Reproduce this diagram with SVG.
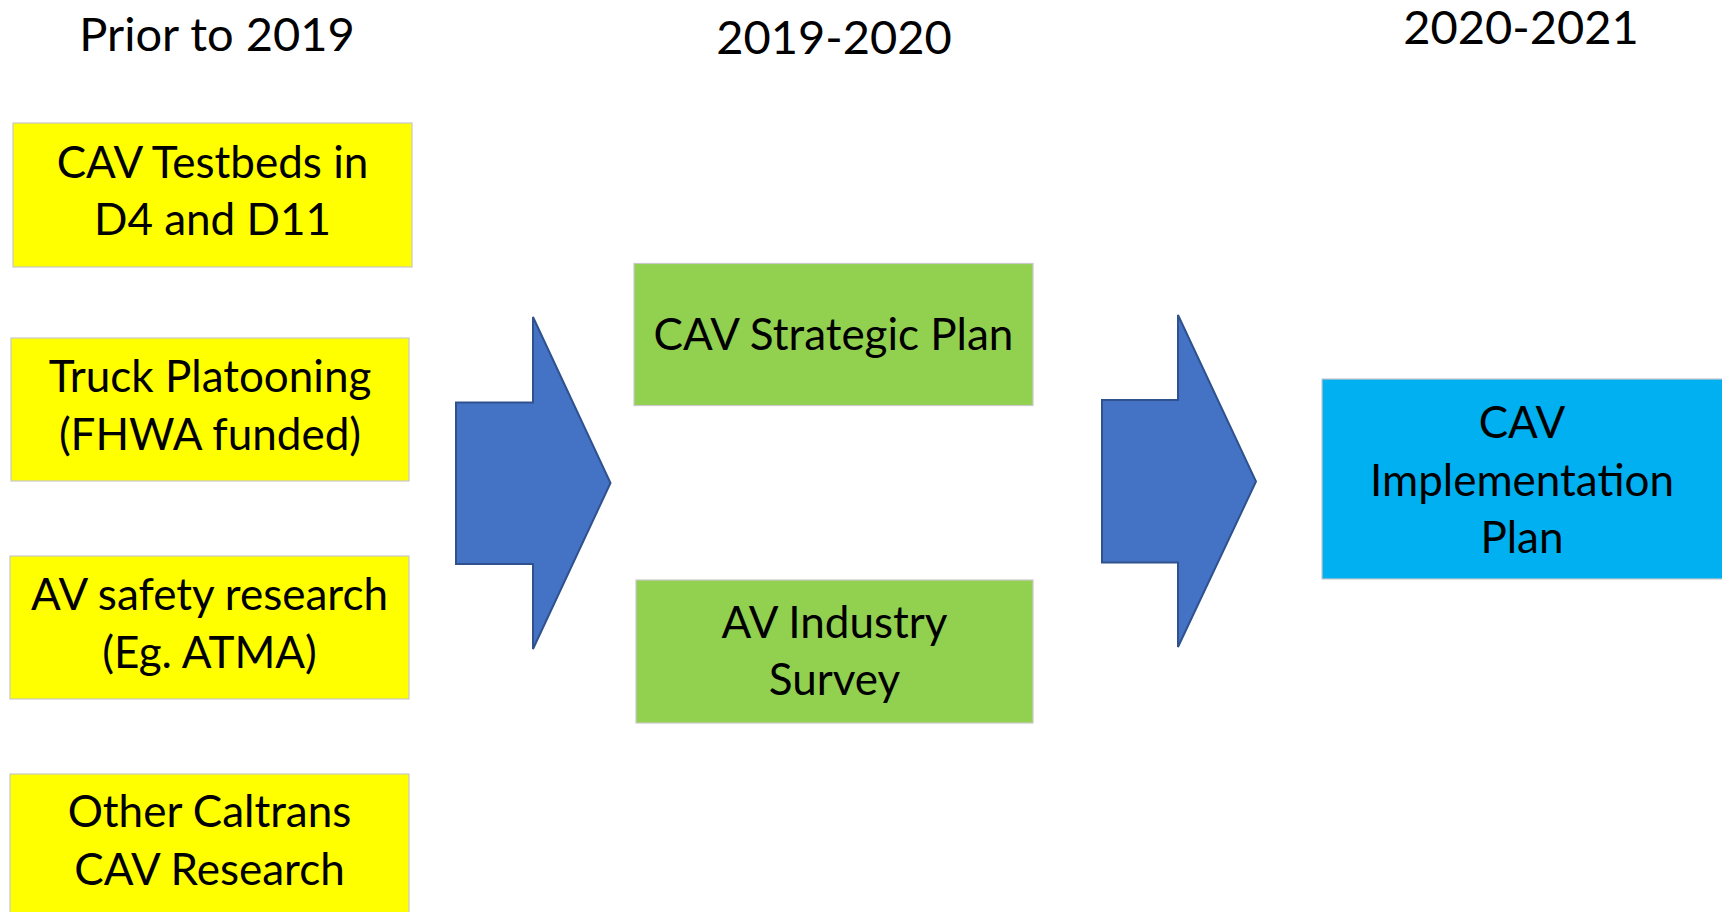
<svg xmlns="http://www.w3.org/2000/svg" width="1722" height="912" viewBox="0 0 1722 912">
<style>
.hdr{font-family:Lato,"Open Sans","Liberation Sans",sans-serif;font-size:47px;fill:#000;text-anchor:middle}
.t{font-family:Lato,"Open Sans","Liberation Sans",sans-serif;font-size:44px;fill:#000;text-anchor:middle}
.y{fill:#FFFF00;stroke:#C9C9C9;stroke-width:1.2}
.g{fill:#92D050;stroke:#C9C9C9;stroke-width:1.2}
.b{fill:#00B0F0;stroke:#C9C9C9;stroke-width:1.2}
.arr{fill:#4472C4;stroke:#2F528F;stroke-width:2;stroke-linejoin:miter}
</style>
<rect width="1722" height="912" fill="#FFFFFF"/>
<g id="headers">
<text class="hdr" x="217" y="51">Prior to 2019</text>
<text class="hdr" x="834" y="54">2019-2020</text>
<text class="hdr" x="1521" y="44">2020-2021</text>
</g>
<g id="n-testbeds">
<rect class="y" x="13" y="123" width="399" height="144"/>
<text class="t" x="212.5" y="178">CAV Testbeds in</text>
<text class="t" x="212.5" y="235">D4 and D11</text>
</g>
<g id="n-platooning">
<rect class="y" x="11" y="338" width="398" height="143"/>
<text class="t" x="210" y="392">Truck Platooning</text>
<text class="t" x="210" y="450">(FHWA funded)</text>
</g>
<g id="n-avsafety">
<rect class="y" x="10" y="556" width="399" height="143"/>
<text class="t" x="209.5" y="610">AV safety research</text>
<text class="t" x="209.5" y="668">(Eg. ATMA)</text>
</g>
<g id="n-other">
<rect class="y" x="10" y="774" width="399" height="143"/>
<text class="t" x="209.5" y="827">Other Caltrans</text>
<text class="t" x="209.5" y="885">CAV Research</text>
</g>
<g id="n-strategic">
<rect class="g" x="634" y="263.5" width="399" height="142"/>
<text class="t" x="833.5" y="350">CAV Strategic Plan</text>
</g>
<g id="n-survey">
<rect class="g" x="636" y="580" width="397" height="143"/>
<text class="t" x="834.5" y="638">AV Industry</text>
<text class="t" x="834.5" y="695">Survey</text>
</g>
<g id="n-implementation">
<rect class="b" x="1322" y="379" width="402" height="200"/>
<text class="t" x="1522" y="438">CAV</text>
<text class="t" x="1522" y="496">Implementation</text>
<text class="t" x="1522" y="553">Plan</text>
</g>
<g id="connectors">
<polygon class="arr" points="456,402.5 533,402.5 533,317 610.5,483 533,649 533,564 456,564"/>
<polygon class="arr" points="1102,400 1178,400 1178,315 1256,481.5 1178,647 1178,562.5 1102,562.5"/>
</g>
</svg>
